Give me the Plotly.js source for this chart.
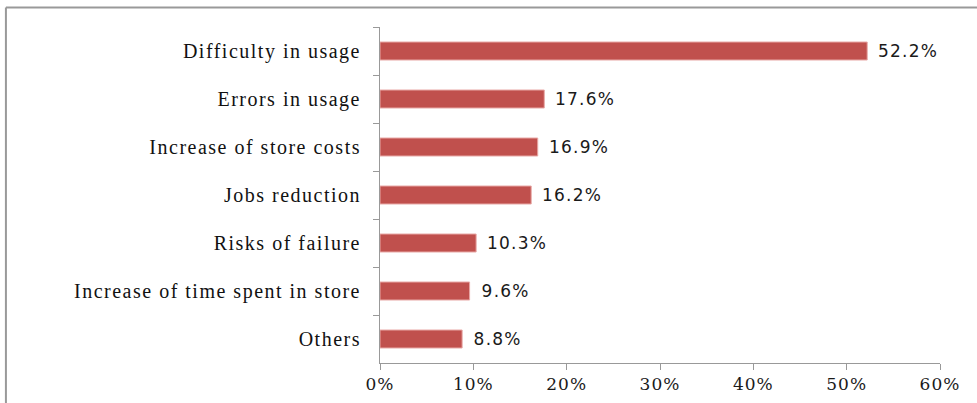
<!DOCTYPE html>
<html>
<head>
<meta charset="utf-8">
<script src="https://cdn.plot.ly/plotly-3.0.1.min.js"></script>
<style>
html,body{margin:0;padding:0;background:#fff;}
#chart{width:977px;height:403px;}
#chart .ytick text{letter-spacing:1.5px;}
#chart .xtick text{letter-spacing:1px;}
#chart .annotation-text{letter-spacing:1.2px;}
</style>
</head>
<body>
<div id="chart"></div>
<script>
const categories = ["Difficulty in usage", "Errors in usage", "Increase of store costs", "Jobs reduction", "Risks of failure", "Increase of time spent in store", "Others"];
const values = [52.2, 17.6, 16.9, 16.2, 10.3, 9.6, 8.8];
const tickVals = [0, 10, 20, 30, 40, 50, 60];
const tickText = ["0%", "10%", "20%", "30%", "40%", "50%", "60%"];

const trace = {
  type: "bar",
  orientation: "h",
  y: categories,
  x: values,
  width: 0.375,
  marker: {color: "#C0504D", line: {color: "#E8A8A6", width: 1}},
  hoverinfo: "none"
};

const annotations = values.map((v, i) => ({
  x: v, y: categories[i], xref: "x", yref: "y",
  text: v.toFixed(1) + "%", showarrow: false,
  xanchor: "left", yanchor: "middle", xshift: 12,
  font: {family: "DejaVu Sans", size: 17, color: "#1a1a1a"}
}));

const layout = {
  width: 977, height: 403,
  margin: {l: 380, r: 37, t: 27, b: 40},
  paper_bgcolor: "#fff", plot_bgcolor: "#fff",
  showlegend: false,
  xaxis: {
    range: [0, 60], tickvals: tickVals, ticktext: tickText,
    showgrid: false, zeroline: false,
    showline: true, linecolor: "#999", linewidth: 1,
    ticks: "outside", ticklen: 6, tickcolor: "#999",
    tickfont: {family: "DejaVu Serif", size: 17, color: "#1a1a1a"},
    fixedrange: true
  },
  yaxis: {
    type: "category", autorange: "reversed",
    showgrid: false, zeroline: false,
    showline: true, linecolor: "#999", linewidth: 1,
    ticks: "outside", ticklen: 6, tickcolor: "#999", tickson: "boundaries",
    tickfont: {family: "Liberation Serif", size: 20, color: "#111"},
    ticklabelstandoff: 14,
    fixedrange: true
  },
  annotations: annotations,
  shapes: [
    {type: "line", xref: "paper", yref: "paper", x0: -0.668, x1: 1.1, y0: 1.058, y1: 1.058, line: {color: "#999", width: 2}},
    {type: "line", xref: "paper", yref: "paper", x0: -0.668, x1: -0.668, y0: 1.058, y1: -0.2, line: {color: "#999", width: 2}}
  ]
};

Plotly.newPlot("chart", [trace], layout, {displayModeBar: false, staticPlot: true});
</script>
</body>
</html>
